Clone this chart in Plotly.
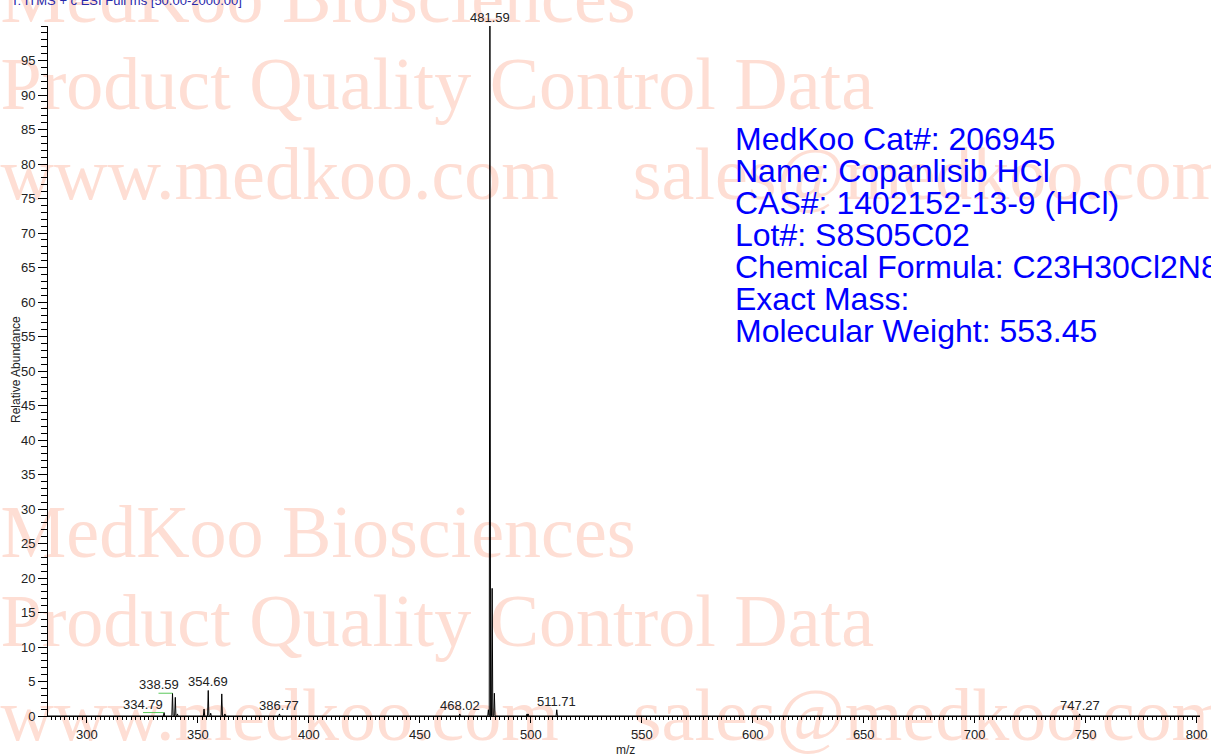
import plotly.graph_objects as go

# ---------------- data ----------------
peak_mz = [334.79, 338.59, 339.85, 340.80, 352.80, 354.69, 355.80, 360.79, 362.20,
           386.77, 468.02, 480.90, 481.59, 482.60, 483.60, 498.30, 498.80, 511.71, 747.27]
peak_int = [0.5, 3.3, 2.7, 0.3, 1.0, 3.7, 0.4, 3.2, 0.3,
            0.3, 0.3, 0.9, 100.0, 18.5, 3.3, 0.3, 0.3, 0.9, 0.3]
label_mz = [334.79, 338.59, 354.69, 386.77, 468.02, 481.59, 511.71, 747.27]
label_int = [0.5, 3.3, 3.7, 0.3, 0.3, 100.0, 0.9, 0.3]
label_shift_px = [-21, -14, 0, 0, 0, 0, 0, 0]

x_major_ticks = list(range(290, 801, 10))
x_tick_text = [str(v) if v % 50 == 0 else "" for v in x_major_ticks]
x_minor_ticks = list(range(284, 801, 2))
y_major_ticks = list(range(0, 96, 5))
y_tick_text = [str(v) for v in y_major_ticks]
y_minor_ticks = list(range(0, 101, 1))

info_lines = ["MedKoo Cat#: 206945", "Name: Copanlisib HCl", "CAS#: 1402152-13-9 (HCl)",
              "Lot#: S8S05C02", "Chemical Formula: C23H30Cl2N8O4", "Exact Mass:",
              "Molecular Weight: 553.45"]
watermark_lines = ["MedKoo Biosciences", "Product Quality Control Data",
                   "www.medkoo.com    sales@medkoo.com"]

# ---------------- layout constants ----------------
W, H = 1211, 754
X_RANGE = [282.5, 801.5]
Y_RANGE = [0, 100]
AX_L, AX_R, AX_B, AX_T = 48, 1200, 716, 26   # pixel positions of data area
PPU = (AX_R - AX_L) / (X_RANGE[1] - X_RANGE[0])


def px(x):
    return x / W


def py(y):
    return 1 - y / H


# profile-style spectrum built from the peak list
hw = 0.3
order = sorted(range(len(peak_mz)), key=lambda i: peak_mz[i])
prof_x, prof_y = [X_RANGE[0]], [0]
for i in order:
    m, h = peak_mz[i], peak_int[i]
    prof_x += [m - hw, m, m + hw]
    prof_y += [0, h, 0]
prof_x.append(X_RANGE[1])
prof_y.append(0)

fig = go.Figure()

# watermark (drawn on a hidden full-page subplot beneath the data)
wm_font = dict(family="Liberation Serif, Times New Roman, serif", size=74,
               color="rgb(254,222,212)")
wm_centers = [3, 90, 180, 538, 627, 721]
for k, yc in enumerate(wm_centers):
    fig.add_trace(go.Scatter(
        x=[0.5], y=[yc], mode="text", text=[watermark_lines[k % 3]],
        textposition="middle right", textfont=wm_font, cliponaxis=False,
        hoverinfo="skip", showlegend=False, xaxis="x", yaxis="y"))

fig.add_trace(go.Scatter(
    x=prof_x, y=prof_y, mode="lines", line=dict(color="black", width=1),
    cliponaxis=False, showlegend=False, xaxis="x2", yaxis="y2"))

annotations = []
tick_font = dict(family="Liberation Sans, Arial, sans-serif", size=13, color="#222222")
for m, h, s in zip(label_mz, label_int, label_shift_px):
    annotations.append(dict(x=m, y=h, xref="x2", yref="y2", text=f"{m:.2f}",
                            showarrow=False, xanchor="center", yanchor="bottom",
                            xshift=s, yshift=-1, font=tick_font))

shapes = []
for m, h, s in zip(label_mz, label_int, label_shift_px):
    if s != 0:
        shapes.append(dict(type="line", xref="x2", yref="y2", x0=m + s / PPU, x1=m,
                           y0=h, y1=h, line=dict(color="rgb(90,200,90)", width=1)))

info_font = dict(family="Liberation Sans, Arial, sans-serif", size=32, color="rgb(0,0,255)")
info_centers = [139, 171, 203, 235, 267, 299, 331]
for t, yc in zip(info_lines, info_centers):
    annotations.append(dict(x=px(733), y=py(yc), xref="paper", yref="paper", text=t,
                            showarrow=False, xanchor="left", yanchor="middle",
                            font=info_font))

annotations.append(dict(x=px(9), y=py(0), xref="paper", yref="paper",
                        text="T: ITMS + c ESI Full ms [50.00-2000.00]", showarrow=False,
                        xanchor="left", yanchor="middle",
                        font=dict(family="Liberation Sans, Arial, sans-serif", size=13,
                                  color="rgb(40,40,170)")))
annotations.append(dict(x=px(16), y=py(370), xref="paper", yref="paper",
                        text="Relative Abundance", showarrow=False, textangle=-90,
                        xanchor="center", yanchor="middle",
                        font=dict(family="Liberation Sans, Arial, sans-serif", size=12,
                                  color="#222222")))
annotations.append(dict(x=px(625), y=py(750), xref="paper", yref="paper",
                        text="m/z", showarrow=False, xanchor="center", yanchor="middle",
                        font=dict(family="Liberation Sans, Arial, sans-serif", size=12,
                                  color="#222222")))

fig.update_layout(
    width=W, height=H, margin=dict(l=0, r=0, t=0, b=0, pad=0, autoexpand=False),
    paper_bgcolor="white", plot_bgcolor="rgba(0,0,0,0)",
    showlegend=False,
    xaxis=dict(domain=[0, 1], range=[0, W], visible=False, fixedrange=True,
               automargin=False),
    yaxis=dict(domain=[0, 1], range=[H, 0], visible=False, fixedrange=True,
               automargin=False),
    xaxis2=dict(domain=[px(AX_L), px(AX_R)], range=X_RANGE, anchor="y2",
                automargin=False,
                showline=True, linecolor="black", linewidth=1, showgrid=False,
                zeroline=False, ticks="outside", ticklen=6, tickcolor="black",
                tickmode="array", tickvals=x_major_ticks, ticktext=x_tick_text,
                tickfont=tick_font,
                minor=dict(tickmode="array", tickvals=x_minor_ticks, ticks="outside",
                           ticklen=3, tickcolor="black", showgrid=False)),
    yaxis2=dict(domain=[py(AX_B), py(AX_T)], range=Y_RANGE, anchor="x2",
                automargin=False,
                showline=True, linecolor="black", linewidth=1, showgrid=False,
                zeroline=False, ticks="outside", ticklen=9, tickcolor="black",
                tickmode="array", tickvals=y_major_ticks, ticktext=y_tick_text,
                tickfont=tick_font,
                minor=dict(tickmode="array", tickvals=y_minor_ticks, ticks="outside",
                           ticklen=6, tickcolor="black", showgrid=False)),
    annotations=annotations, shapes=shapes,
)

fig.write_html("out.html", config={"displayModeBar": False},
               post_script="document.body.style.margin='0';document.body.style.overflow='hidden';")
